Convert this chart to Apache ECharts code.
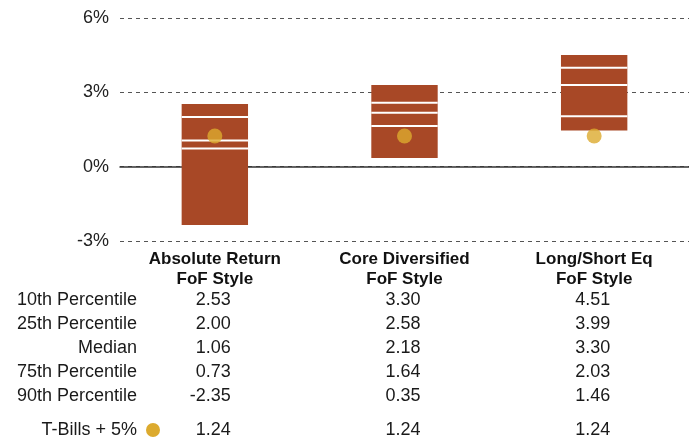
<!DOCTYPE html>
<html>
<head>
<meta charset="utf-8">
<script src="https://cdn.jsdelivr.net/npm/echarts@6/dist/echarts.min.js"></script>
<style>
  html, body { margin: 0; padding: 0; background: #fff; }
  #chart { width: 689px; height: 440px; }
</style>
</head>
<body>
<div id="chart"></div>
<script>
const categories = ['Absolute Return\nFoF Style', 'Core Diversified\nFoF Style', 'Long/Short Eq\nFoF Style'];
const p10 = [2.53, 3.30, 4.51];
const p25 = [2.00, 2.58, 3.99];
const median = [1.06, 2.18, 3.30];
const p75 = [0.73, 1.64, 2.03];
const p90 = [-2.35, 0.35, 1.46];
const tBills = [1.24, 1.24, 1.24];
const rowLabels = ['10th Percentile', '25th Percentile', 'Median', '75th Percentile', '90th Percentile'];
const rowValues = [p10, p25, median, p75, p90];
const tBillsLabel = 'T-Bills + 5%';

const FONT = '"Liberation Sans", Arial, sans-serif';
const BAR = '#a84826';
const DOT = '#dcaa2e';

const chart = echarts.init(document.getElementById('chart'));

const renderBox = (params, api) => {
  const i = api.value(0);
  const top = api.coord([i, api.value(1)]);
  const bottom = api.coord([i, api.value(5)]);
  const w = api.size([1, 0])[0] * 0.35;
  const children = [
    {
      type: 'rect',
      shape: { x: top[0] - w / 2, y: top[1], width: w, height: bottom[1] - top[1] },
      style: { fill: BAR },
    },
  ];
  for (let k = 2; k <= 4; k++) {
    const p = api.coord([i, api.value(k)]);
    children.push({
      type: 'line',
      shape: { x1: p[0] - w / 2, y1: p[1], x2: p[0] + w / 2, y2: p[1] },
      style: { stroke: '#fff', lineWidth: 2 },
    });
  }
  return { type: 'group', children };
};

chart.setOption({
  animation: false,
  grid: { left: 120, right: 0, top: 18, bottom: 199 },
  xAxis: [
    {
      type: 'category',
      data: categories,
      axisLine: { show: false, onZero: false },
      axisTick: { show: false },
      axisLabel: {
        margin: 8,
        color: '#111',
        fontFamily: FONT,
        fontSize: 17,
        fontWeight: 'bold',
        lineHeight: 20,
      },
    },
    {
      type: 'category',
      data: categories,
      position: 'bottom',
      axisLine: { show: true, onZero: true, lineStyle: { color: '#333', width: 1.5 } },
      axisTick: { show: false },
      axisLabel: { show: false },
    },
  ],
  yAxis: {
    type: 'value',
    min: -3,
    max: 6,
    interval: 3,
    axisLine: { show: false },
    axisTick: { show: false },
    axisLabel: {
      formatter: '{value}%',
      margin: 11,
      color: '#222',
      fontFamily: FONT,
      fontSize: 18,
    },
    splitLine: { lineStyle: { type: [4, 4], color: '#555', width: 1 } },
  },
  series: [
    {
      type: 'custom',
      renderItem: renderBox,
      encode: { x: 0, y: [1, 2, 3, 4, 5] },
      data: categories.map((c, i) => [i, p10[i], p25[i], median[i], p75[i], p90[i]]),
      z: 2,
    },
    {
      type: 'scatter',
      data: tBills,
      symbolSize: 15,
      itemStyle: { color: DOT },
      z: 3,
    },
  ],
});

// table below the plot
const rowY = [300, 324, 348, 372, 396];
const tBillsY = 430;
const labelRight = 137;
const colX = categories.map((c, i) => chart.convertToPixel({ xAxisIndex: 0 }, i) + 16);
const textStyle = { fontFamily: FONT, fontSize: 18, fill: '#1a1a1a', verticalAlign: 'middle' };
const graphic = [];
rowLabels.forEach((label, r) => {
  graphic.push({ type: 'text', x: labelRight, y: rowY[r], style: { ...textStyle, text: label, align: 'right' } });
  rowValues[r].forEach((v, i) => {
    graphic.push({ type: 'text', x: colX[i], y: rowY[r], style: { ...textStyle, text: v.toFixed(2), align: 'right' } });
  });
});
graphic.push({ type: 'text', x: labelRight, y: tBillsY, style: { ...textStyle, text: tBillsLabel, align: 'right' } });
graphic.push({ type: 'circle', shape: { cx: 153, cy: tBillsY, r: 7 }, style: { fill: DOT } });
tBills.forEach((v, i) => {
  graphic.push({ type: 'text', x: colX[i], y: tBillsY, style: { ...textStyle, text: v.toFixed(2), align: 'right' } });
});
chart.setOption({ graphic });
</script>
</body>
</html>
